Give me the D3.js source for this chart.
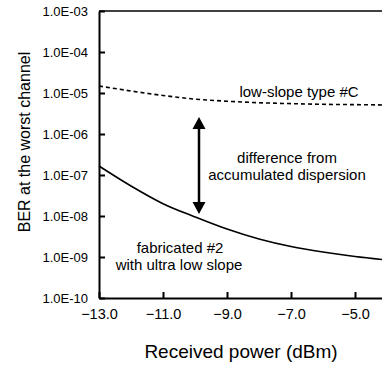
<!DOCTYPE html>
<html>
<head>
<meta charset="utf-8">
<script src="https://cdn.jsdelivr.net/npm/d3@7"></script>
<style>
    body { margin: 0; background: #fff; }
    text { font-family: "Liberation Sans", Arial, sans-serif; fill: #000; }
</style>
</head>
<body>
<div id="chart"></div>
<script>
const powers = [-13, -12, -11, -10, -9, -8, -7, -6, -5, -4];
const berTypeC = [1.48e-5, 1.12e-5, 8.7e-6, 7.1e-6, 6.3e-6, 5.8e-6, 5.5e-6, 5.3e-6, 5.2e-6, 5.1e-6];
const berFab2 = [1.66e-7, 5.4e-8, 2.0e-8, 9.5e-9, 4.8e-9, 2.75e-9, 1.8e-9, 1.32e-9, 1.03e-9, 8.45e-10];
const xTicks = [-13, -11, -9, -7, -5];
const yTicks = [1e-3, 1e-4, 1e-5, 1e-6, 1e-7, 1e-8, 1e-9, 1e-10];
const arrowPos = { x: -9.875, top: 2.6e-6, bottom: 1.12e-8 };

const width = 382;
const height = 367;
const margin = { top: 11, left: 99, bottom: 69 };

const svg = d3.select("#chart")
    .append("svg")
    .attr("width", width)
    .attr("height", height);

// domain runs past the right edge, the picture is cut there
const xScale = d3.scaleLinear()
    .domain([-13, -3])
    .range([margin.left, margin.left + 320]);

const yScale = d3.scaleLog()
    .domain([1e-10, 1e-3])
    .range([height - margin.bottom, margin.top]);

const fmtExp = v => {
    const e = Math.round(Math.log10(v));
    return "1.0E-" + String(-e).padStart(2, "0");
};

const yAxis = svg.append("g")
    .attr("transform", `translate(${margin.left},0)`)
    .call(d3.axisLeft(yScale).tickValues(yTicks).tickFormat(fmtExp)
        .tickSizeInner(-6).tickSizeOuter(0).tickPadding(11));
yAxis.selectAll("text").style("font-size", "13px");

const xAxis = svg.append("g")
    .attr("transform", `translate(0,${height - margin.bottom})`)
    .call(d3.axisBottom(xScale).tickValues(xTicks).tickFormat(d3.format(".1f"))
        .tickSizeInner(-6).tickSizeOuter(0).tickPadding(11));
xAxis.selectAll("text").style("font-size", "14.5px");

svg.selectAll(".domain").attr("stroke-width", 2);
svg.selectAll(".tick line").attr("stroke-width", 2);

// top frame line
svg.append("line")
    .attr("x1", xScale(-13)).attr("x2", xScale(-3))
    .attr("y1", yScale(1e-3)).attr("y2", yScale(1e-3))
    .attr("stroke", "#000").attr("stroke-width", 1.6);

const line = d3.line()
    .x((d, i) => xScale(powers[i]))
    .y(d => yScale(d))
    .curve(d3.curveMonotoneX);

svg.append("path")
    .datum(berTypeC)
    .attr("d", line)
    .attr("fill", "none")
    .attr("stroke", "#000")
    .attr("stroke-width", 1.6)
    .attr("stroke-dasharray", "4,3");

svg.append("path")
    .datum(berFab2)
    .attr("d", line)
    .attr("fill", "none")
    .attr("stroke", "#000")
    .attr("stroke-width", 1.6);

// double arrow
const ax = xScale(arrowPos.x);
const ay1 = yScale(arrowPos.top);
const ay2 = yScale(arrowPos.bottom);
const head = 12;
svg.append("line")
    .attr("x1", ax).attr("x2", ax)
    .attr("y1", ay1 + head).attr("y2", ay2 - head)
    .attr("stroke", "#000").attr("stroke-width", 2.5);
svg.append("path")
    .attr("d", `M${ax},${ay1} L${ax - 6.5},${ay1 + head} L${ax + 6.5},${ay1 + head} Z`)
    .attr("fill", "#000");
svg.append("path")
    .attr("d", `M${ax},${ay2} L${ax - 6.5},${ay2 - head} L${ax + 6.5},${ay2 - head} Z`)
    .attr("fill", "#000");

const label = (x, y, str, size) => svg.append("text")
    .attr("x", x).attr("y", y)
    .attr("text-anchor", "middle")
    .style("font-size", size + "px")
    .text(str);

label(299, 97, "low-slope type #C", 15);
label(287, 163, "difference from", 15);
label(287, 180, "accumulated dispersion", 15);
label(180, 253, "fabricated #2", 15);
label(179, 270, "with ultra low slope", 15);

label(241, 358, "Received power (dBm)", 19);

svg.append("text")
    .attr("transform", "translate(30,142) rotate(-90)")
    .attr("text-anchor", "middle")
    .style("font-size", "16px")
    .text("BER at the worst channel");
</script>
</body>
</html>
